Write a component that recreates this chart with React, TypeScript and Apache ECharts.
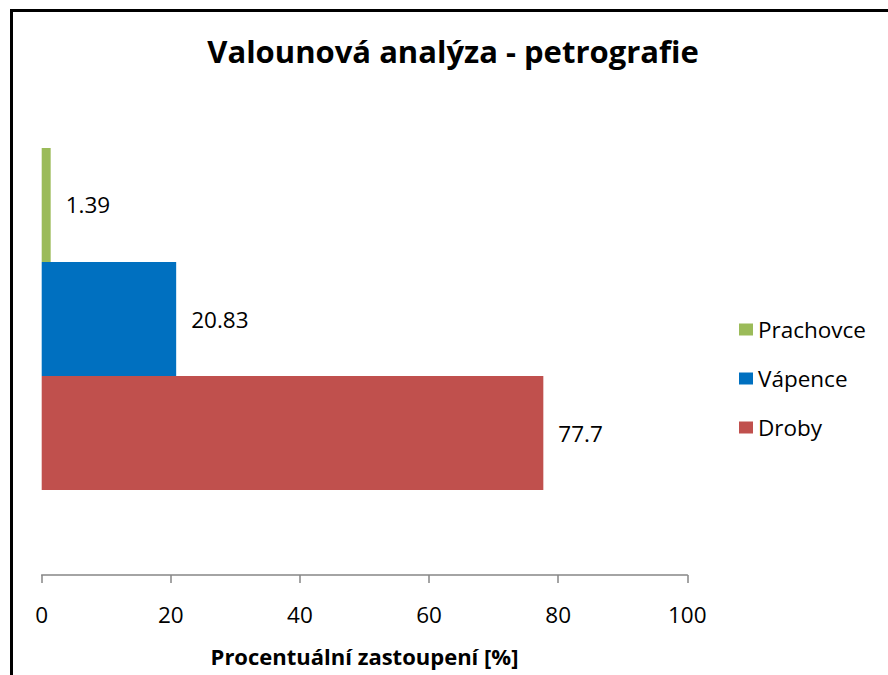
import React, { useEffect, useRef } from "react";
import * as echarts from "echarts";

const categories = [""];
const seriesNames = ["Prachovce", "Vápence", "Droby"];
const seriesValues = [[1.39], [20.83], [77.7]];
const seriesColors = ["#9BBB59", "#0070C0", "#C0504D"];
const legendOrder = ["Prachovce", "Vápence", "Droby"];
const xTicks = { min: 0, max: 100, interval: 20 };

const FONT = "'Open Sans', Lato, sans-serif";

export default function App() {
  const ref = useRef<HTMLDivElement>(null);
  useEffect(() => {
    if (!ref.current) return;
    const chart = echarts.init(ref.current, null, { renderer: "svg" });
    chart.setOption({
      animation: false,
      backgroundColor: "#ffffff",
      textStyle: { fontFamily: FONT },
      title: {
        text: "Valounová analýza - petrografie",
        left: 448,
        textAlign: "center",
        top: 30,
        textStyle: { fontFamily: FONT, fontWeight: "bold", fontSize: 31, color: "#000" },
      },
      legend: {
        orient: "vertical",
        left: 734,
        top: 313,
        itemWidth: 14,
        itemHeight: 12,
        itemGap: 26,
        icon: "rect",
        data: legendOrder,
        textStyle: { fontFamily: FONT, fontSize: 22.5, color: "#000", padding: [0, 0, 0, 0] },
      },
      grid: { left: 41.7, right: 200.7, top: 63, bottom: 100, containLabel: false },
      xAxis: {
        type: "value",
        min: xTicks.min,
        max: xTicks.max,
        interval: xTicks.interval,
        name: "Procentuální zastoupení [%]",
        nameLocation: "middle",
        nameGap: 70,
        nameTextStyle: { fontFamily: FONT, fontWeight: "bold", fontSize: 22, color: "#000" },
        axisLine: { show: true, lineStyle: { color: "#868686", width: 1.5 } },
        axisTick: { show: true, length: 8, lineStyle: { color: "#868686", width: 1.5 } },
        axisLabel: { margin: 28, fontFamily: FONT, fontSize: 22.5, color: "#000" },
        splitLine: { show: false },
      },
      yAxis: {
        type: "category",
        data: categories,
        axisLine: { show: false },
        axisTick: { show: false },
        axisLabel: { show: false },
        splitLine: { show: false },
      },
      series: seriesNames.map((name, i) => ({
        name,
        type: "bar",
        data: seriesValues[i],
        barGap: "0%",
        barCategoryGap: "33.2%",
        itemStyle: { color: seriesColors[i] },
        label: {
          show: true,
          position: "right",
          distance: 15,
          fontFamily: FONT,
          fontSize: 22.5,
          color: "#000",
        },
      })),
      graphic: [
        {
          type: "rect",
          shape: { x: 11.5, y: 10.5, width: 1000, height: 1000 },
          style: { fill: "none", stroke: "#000", lineWidth: 3 },
          silent: true,
        },
      ],
    });
    return () => chart.dispose();
  }, []);
  return (
    <div
      ref={ref}
      style={{ position: "fixed", left: 0, top: 0, width: 888, height: 675 }}
    />
  );
}
